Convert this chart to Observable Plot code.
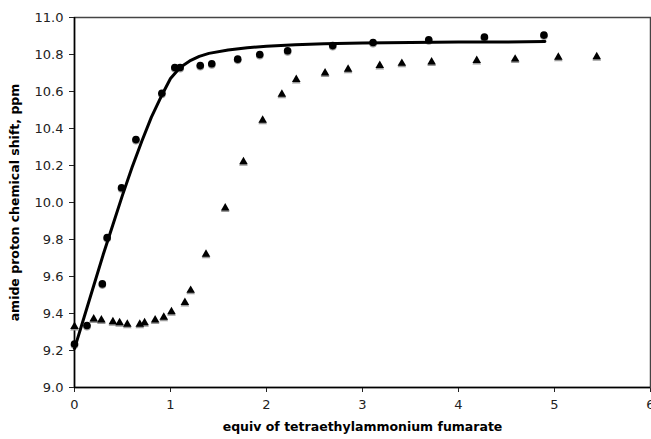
<!DOCTYPE html>
<html>
<head>
<meta charset="utf-8">
<script src="https://cdn.jsdelivr.net/npm/d3@7"></script>
<script src="https://cdn.jsdelivr.net/npm/@observablehq/plot@0.6"></script>
<style>
  body { margin: 0; background: white; }
  #chart { width: 651px; height: 439px; overflow: hidden; }
</style>
</head>
<body>
<div id="chart"></div>
<script>
// Circles (series 1)
const circleX = [0.00, 0.13, 0.29, 0.34, 0.49, 0.64, 0.91, 1.045, 1.10, 1.31, 1.43, 1.70, 1.93, 2.22, 2.69, 3.11, 3.69, 4.27, 4.89];
const circleY = [9.235, 9.335, 9.56, 9.81, 10.08, 10.34, 10.59, 10.73, 10.73, 10.74, 10.75, 10.775, 10.80, 10.82, 10.848, 10.865, 10.88, 10.895, 10.905];
// Triangles (series 2)
const triX = [0.00, 0.20, 0.28, 0.40, 0.47, 0.55, 0.68, 0.73, 0.84, 0.93, 1.01, 1.15, 1.21, 1.37, 1.57, 1.76, 1.96, 2.16, 2.31, 2.61, 2.85, 3.18, 3.41, 3.72, 4.19, 4.59, 5.04, 5.44];
const triY = [9.33, 9.37, 9.365, 9.355, 9.35, 9.342, 9.342, 9.35, 9.365, 9.38, 9.41, 9.46, 9.525, 9.72, 9.97, 10.22, 10.445, 10.585, 10.665, 10.70, 10.72, 10.74, 10.752, 10.76, 10.768, 10.775, 10.785, 10.788];
// Fitted curve
const fitX = [0, 0.1, 0.2, 0.3, 0.4, 0.5, 0.6, 0.7, 0.8, 0.9, 1.0, 1.1, 1.2, 1.3, 1.4, 1.6, 1.8, 2.0, 2.3, 2.6, 3.0, 3.5, 4.0, 4.5, 4.9];
const fitY = [9.21, 9.38, 9.55, 9.72, 9.88, 10.04, 10.19, 10.33, 10.46, 10.57, 10.67, 10.73, 10.765, 10.79, 10.806, 10.824, 10.836, 10.845, 10.853, 10.858, 10.862, 10.865, 10.867, 10.868, 10.870];

const xTicks = [0, 1, 2, 3, 4, 5, 6];
const yTicks = [9.0, 9.2, 9.4, 9.6, 9.8, 10.0, 10.2, 10.4, 10.6, 10.8, 11.0];
const xLabel = "equiv of tetraethylammonium fumarate";
const yLabel = "amide proton chemical shift, ppm";

const circles = circleX.map((x, i) => ({x, y: circleY[i]}));
const tris = triX.map((x, i) => ({x, y: triY[i]}));
const fit = fitX.map((x, i) => ({x, y: fitY[i]}));

const chart = Plot.plot({
  width: 651,
  height: 439,
  marginLeft: 74,
  marginRight: 1,
  marginTop: 17,
  marginBottom: 52,
  style: {fontFamily: "DejaVu Sans, Verdana, sans-serif", fontSize: "13px", color: "#222", background: "white"},
  x: {domain: [0, 6], ticks: xTicks, tickFormat: d3.format("d"), tickSize: 5, tickPadding: 7, label: null},
  y: {domain: [9, 11], ticks: yTicks, tickFormat: d3.format(".1f"), tickSize: 5, tickPadding: 6, label: null},
  marks: [
    Plot.frame({stroke: "#444", strokeWidth: 1.5}),
    Plot.ruleX([0], {stroke: "#000", strokeWidth: 1.5}),
    Plot.ruleY([9], {stroke: "#000", strokeWidth: 1.5}),
    // shadows
    Plot.dot(tris, {x: "x", y: "y", symbol: "triangle", r: 3.2, fill: "#999", dy: 1.5, stroke: "none"}),
    Plot.dot(circles, {x: "x", y: "y", symbol: "circle", r: 3.8, fill: "#999", dy: 1.2, stroke: "none"}),
    Plot.line(fit, {x: "x", y: "y", stroke: "#000", strokeWidth: 3, curve: "linear", strokeLinejoin: "round"}),
    Plot.dot(tris, {x: "x", y: "y", symbol: "triangle", r: 3.2, fill: "#000", stroke: "none"}),
    Plot.dot(circles, {x: "x", y: "y", symbol: "circle", r: 3.8, fill: "#000", stroke: "none"}),
    Plot.text([xLabel], {frameAnchor: "bottom", dy: 43, fontWeight: "bold", fontSize: 12.5, fill: "#000", textAnchor: "middle"}),
    Plot.text([yLabel], {frameAnchor: "left", dx: -60, rotate: -90, fontWeight: "bold", fontSize: 12.5, fill: "#000", textAnchor: "middle"})
  ]
});
document.getElementById("chart").appendChild(chart);
</script>
</body>
</html>
